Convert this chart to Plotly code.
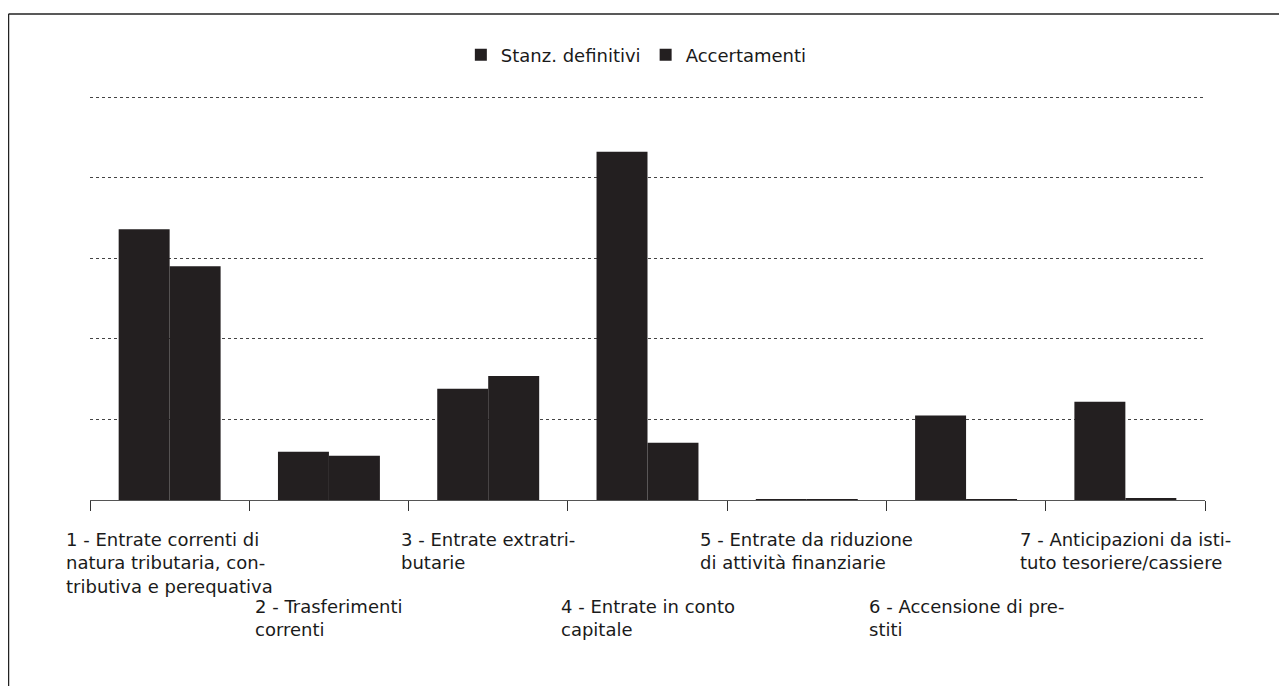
import plotly.graph_objects as go

categories = [
    "1 - Entrate correnti di<br>natura tributaria, con-<br>tributiva e perequativa",
    "2 - Trasferimenti<br>correnti",
    "3 - Entrate extratri-<br>butarie",
    "4 - Entrate in conto<br>capitale",
    "5 - Entrate da riduzione<br>di attività finanziarie",
    "6 - Accensione di pre-<br>stiti",
    "7 - Anticipazioni da isti-<br>tuto tesoriere/cassiere",
]
cat_ids = ["c1", "c2", "c3", "c4", "c5", "c6", "c7"]
stanz_definitivi = [3.36, 0.60, 1.38, 4.32, 0.01, 1.05, 1.22]
accertamenti = [2.90, 0.55, 1.54, 0.71, 0.01, 0.01, 0.02]
series_names = ["Stanz. definitivi", "Accertamenti"]

BAR = "#231f20"
FONT = "DejaVu Sans"
TXT = "#1a1a1a"

fig = go.Figure()
fig.add_trace(go.Bar(x=cat_ids, y=stanz_definitivi, name=series_names[0],
                     marker=dict(color=BAR, line=dict(width=0))))
fig.add_trace(go.Bar(x=cat_ids, y=accertamenti, name=series_names[1],
                     marker=dict(color=BAR, line=dict(width=0))))

# staggered category labels (odd on first row, even on second row)
row_y = [-0.0663, -0.231]
for i, (cid, lab) in enumerate(zip(cat_ids, categories)):
    fig.add_annotation(x=cid, xref="x", y=row_y[i % 2], yref="paper",
                       text=lab, showarrow=False, align="left",
                       xanchor="center", yanchor="top",
                       font=dict(family=FONT, size=18, color=TXT))

# outer frame
frame = dict(type="line", xref="paper", yref="paper",
             line=dict(color="#222", width=1.5))
fig.add_shape(**frame, x0=-0.0731, x1=1.0709, y0=1.194, y1=1.194)
fig.add_shape(**frame, x0=-0.0731, x1=-0.0731, y0=1.194, y1=-0.6)
fig.add_shape(**frame, x0=1.0709, x1=1.0709, y0=1.194, y1=-0.6)

fig.update_layout(
    width=1287, height=686,
    margin=dict(l=82, r=90, t=85, b=194),
    paper_bgcolor="white", plot_bgcolor="white",
    barmode="group", bargap=0.36, bargroupgap=0,
    showlegend=True,
    legend=dict(orientation="h", x=0.49, xanchor="center", y=1.093,
                yanchor="middle", itemwidth=30,
                font=dict(family=FONT, size=18, color=TXT),
                traceorder="normal"),
    font=dict(family=FONT, size=18, color=TXT),
    xaxis=dict(type="category", tickson="boundaries", ticks="outside",
               range=[-0.5, len(cat_ids) - 0.5], autorange=False,
               ticklen=10, tickcolor="#333", showticklabels=False,
               showline=True, linecolor="#555", linewidth=1,
               showgrid=False),
    yaxis=dict(range=[0, 5.05], dtick=1, showticklabels=False,
               showgrid=True, gridcolor="#444", gridwidth=1,
               griddash="3px,3px", zeroline=False, showline=False),
)

fig.write_html("out.html")
